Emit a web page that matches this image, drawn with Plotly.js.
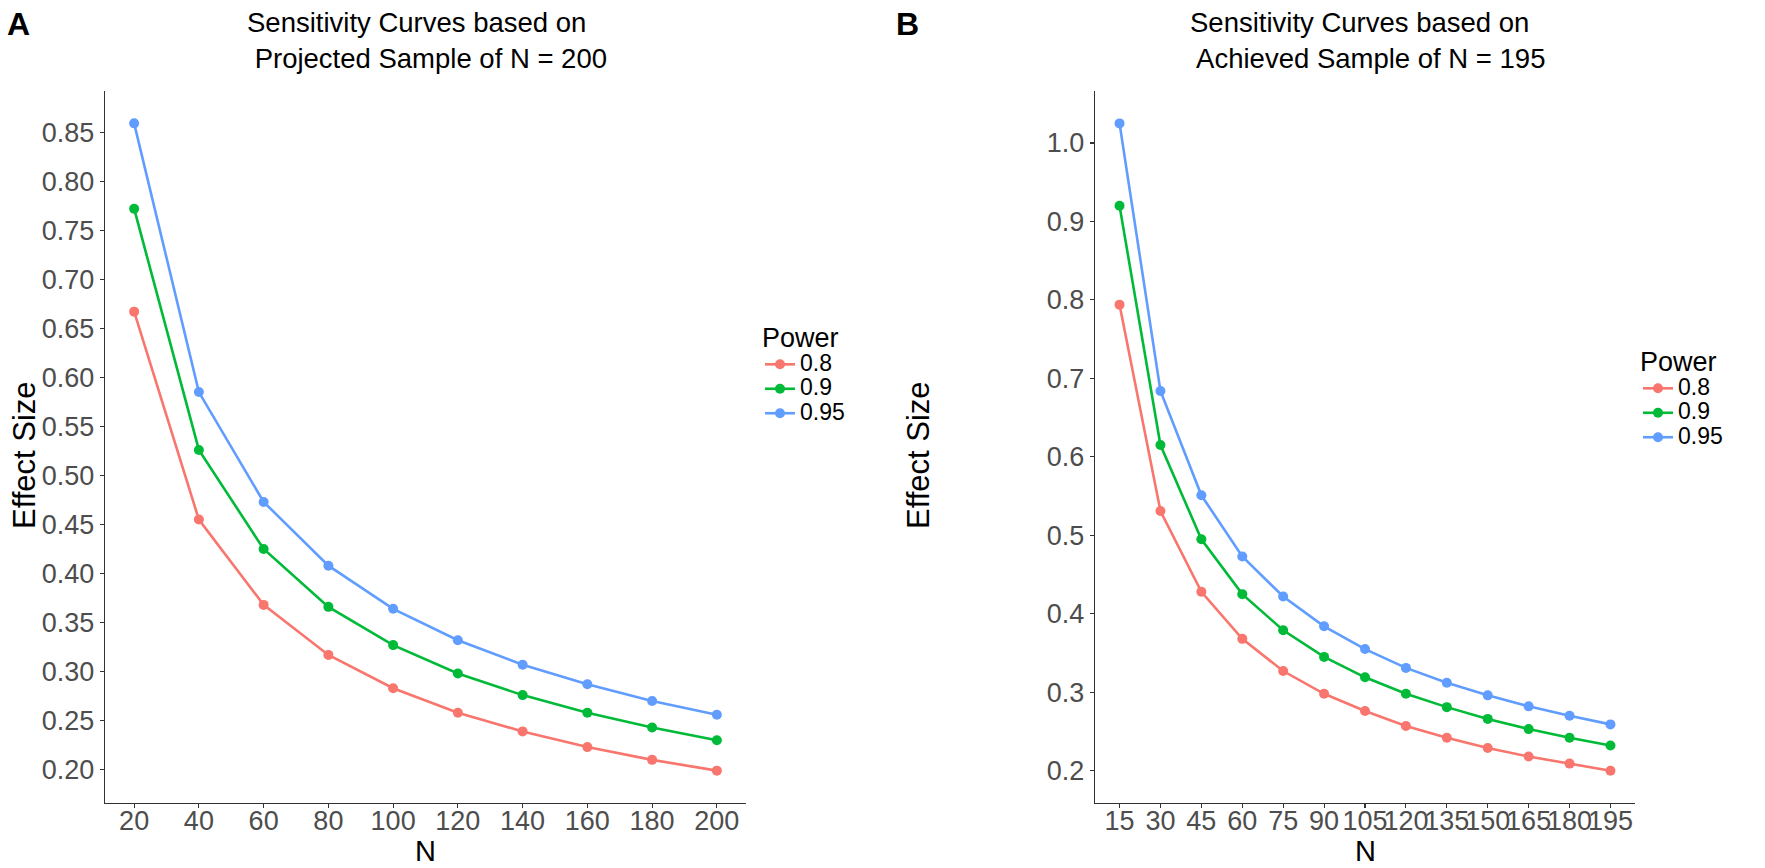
<!DOCTYPE html>
<html>
<head>
<meta charset="utf-8">
<script src="https://cdn.plot.ly/plotly-3.0.1.min.js"></script>
<style>html,body{margin:0;padding:0;background:#fff;}#chart{width:1765px;height:868px;}</style>
</head>
<body>
<div id="chart"></div>
<script>
// Panel A: projected sample (N = 200)
const nA = [20, 40, 60, 80, 100, 120, 140, 160, 180, 200];
const powA_080 = [0.667, 0.455, 0.368, 0.317, 0.283, 0.258, 0.239, 0.223, 0.210, 0.199];
const powA_090 = [0.772, 0.526, 0.425, 0.366, 0.327, 0.298, 0.276, 0.258, 0.243, 0.230];
const powA_095 = [0.859, 0.585, 0.473, 0.408, 0.364, 0.332, 0.307, 0.287, 0.270, 0.256];

// Panel B: achieved sample (N = 195)
const nB = [15, 30, 45, 60, 75, 90, 105, 120, 135, 150, 165, 180, 195];
const powB_080 = [0.794, 0.531, 0.428, 0.368, 0.327, 0.298, 0.276, 0.257, 0.242, 0.229, 0.218, 0.209, 0.200];
const powB_090 = [0.920, 0.615, 0.495, 0.425, 0.379, 0.345, 0.319, 0.298, 0.281, 0.266, 0.253, 0.242, 0.232];
const powB_095 = [1.025, 0.684, 0.551, 0.473, 0.422, 0.384, 0.355, 0.331, 0.312, 0.296, 0.282, 0.270, 0.259];

const powerLabels = ['0.8', '0.9', '0.95'];
const ticksA_y = [0.20, 0.25, 0.30, 0.35, 0.40, 0.45, 0.50, 0.55, 0.60, 0.65, 0.70, 0.75, 0.80, 0.85];
const ticksB_y = [0.2, 0.3, 0.4, 0.5, 0.6, 0.7, 0.8, 0.9, 1.0];

const colors = ['#F8766D', '#00BA38', '#619CFF'];
const FONT = 'Liberation Sans, Arial, Helvetica, sans-serif';

function mk(x, y, i, xa, ya, leg) {
  return {
    x: x, y: y, xaxis: xa, yaxis: ya, type: 'scatter', mode: 'lines+markers',
    name: '<span style="font-size:23px">' + powerLabels[i] + '</span>', legend: leg,
    line: {color: colors[i], width: 2.6},
    marker: {color: colors[i], size: 10},
    hoverinfo: 'x+y'
  };
}

const data = [
  mk(nA, powA_080, 0, 'x', 'y', 'legend'),
  mk(nA, powA_090, 1, 'x', 'y', 'legend'),
  mk(nA, powA_095, 2, 'x', 'y', 'legend'),
  mk(nB, powB_080, 0, 'x2', 'y2', 'legend2'),
  mk(nB, powB_090, 1, 'x2', 'y2', 'legend2'),
  mk(nB, powB_095, 2, 'x2', 'y2', 'legend2')
];

const W = 1765, H = 868;
const px = v => v / W;
const py = v => 1 - v / H;

const axisCommon = {
  showgrid: false, zeroline: false, showline: true, linecolor: '#333333', linewidth: 1.2,
  ticks: 'outside', ticklen: 4, tickwidth: 1.1, tickcolor: '#333333',
  tickfont: {family: FONT, size: 27, color: '#4D4D4D'}, tickangle: 0, fixedrange: true
};

const legendCommon = {
  xanchor: 'left', yanchor: 'top',
  title: {text: 'Power', font: {family: FONT, size: 27, color: '#000'}},
  font: {family: FONT, size: 16.5, color: '#000'}, bgcolor: 'rgba(0,0,0,0)', itemwidth: 30, tracegroupgap: 0
};

const layout = {
  width: W, height: H,
  margin: {l: 0, r: 0, t: 0, b: 0},
  paper_bgcolor: '#ffffff', plot_bgcolor: '#ffffff',
  font: {family: FONT},
  xaxis: Object.assign({}, axisCommon, {domain: [px(105), px(746)], range: [11, 209], tickmode: 'array', tickvals: nA, anchor: 'y', ticklabelstandoff: -11}),
  yaxis: Object.assign({}, axisCommon, {domain: [py(803), py(91)], range: [0.166, 0.892], tickmode: 'array', tickvals: ticksA_y, tickformat: '.2f', anchor: 'x'}),
  xaxis2: Object.assign({}, axisCommon, {domain: [px(1095), px(1635)], range: [6, 204], tickmode: 'array', tickvals: nB, anchor: 'y2', ticklabelstandoff: -11}),
  yaxis2: Object.assign({}, axisCommon, {domain: [py(803), py(91)], range: [0.1588, 1.0663], tickmode: 'array', tickvals: ticksB_y, tickformat: '.1f', anchor: 'x2'}),
  legend: Object.assign({}, legendCommon, {x: px(760), y: py(312)}),
  legend2: Object.assign({}, legendCommon, {x: px(1638), y: py(336)}),
  showlegend: true,
  annotations: [
    {text: '<b>A</b>', xref: 'paper', yref: 'paper', x: px(5), y: py(4), xanchor: 'left', yanchor: 'top', showarrow: false, font: {family: FONT, size: 32, color: '#000'}},
    {text: '<b>B</b>', xref: 'paper', yref: 'paper', x: px(894), y: py(4), xanchor: 'left', yanchor: 'top', showarrow: false, font: {family: FONT, size: 32, color: '#000'}},
    {text: 'Sensitivity Curves based on<br> Projected Sample of N = 200', align: 'left', xref: 'paper', yref: 'paper', x: px(427), y: py(40), xanchor: 'center', yanchor: 'middle', showarrow: false, font: {family: FONT, size: 27.5, color: '#000'}},
    {text: 'Sensitivity Curves based on<br> Achieved Sample of N = 195', align: 'left', xref: 'paper', yref: 'paper', x: px(1367), y: py(40), xanchor: 'center', yanchor: 'middle', showarrow: false, font: {family: FONT, size: 27.5, color: '#000'}},
    {text: 'Effect Size', xref: 'paper', yref: 'paper', x: px(24), y: py(455), xanchor: 'center', yanchor: 'middle', textangle: -90, showarrow: false, font: {family: FONT, size: 31, color: '#000'}},
    {text: 'Effect Size', xref: 'paper', yref: 'paper', x: px(918), y: py(455), xanchor: 'center', yanchor: 'middle', textangle: -90, showarrow: false, font: {family: FONT, size: 31, color: '#000'}},
    {text: 'N', xref: 'paper', yref: 'paper', x: px(425), y: py(851), xanchor: 'center', yanchor: 'middle', showarrow: false, font: {family: FONT, size: 29, color: '#000'}},
    {text: 'N', xref: 'paper', yref: 'paper', x: px(1365), y: py(851), xanchor: 'center', yanchor: 'middle', showarrow: false, font: {family: FONT, size: 29, color: '#000'}}
  ]
};

Plotly.newPlot('chart', data, layout, {displayModeBar: false, staticPlot: true});
</script>
</body>
</html>
